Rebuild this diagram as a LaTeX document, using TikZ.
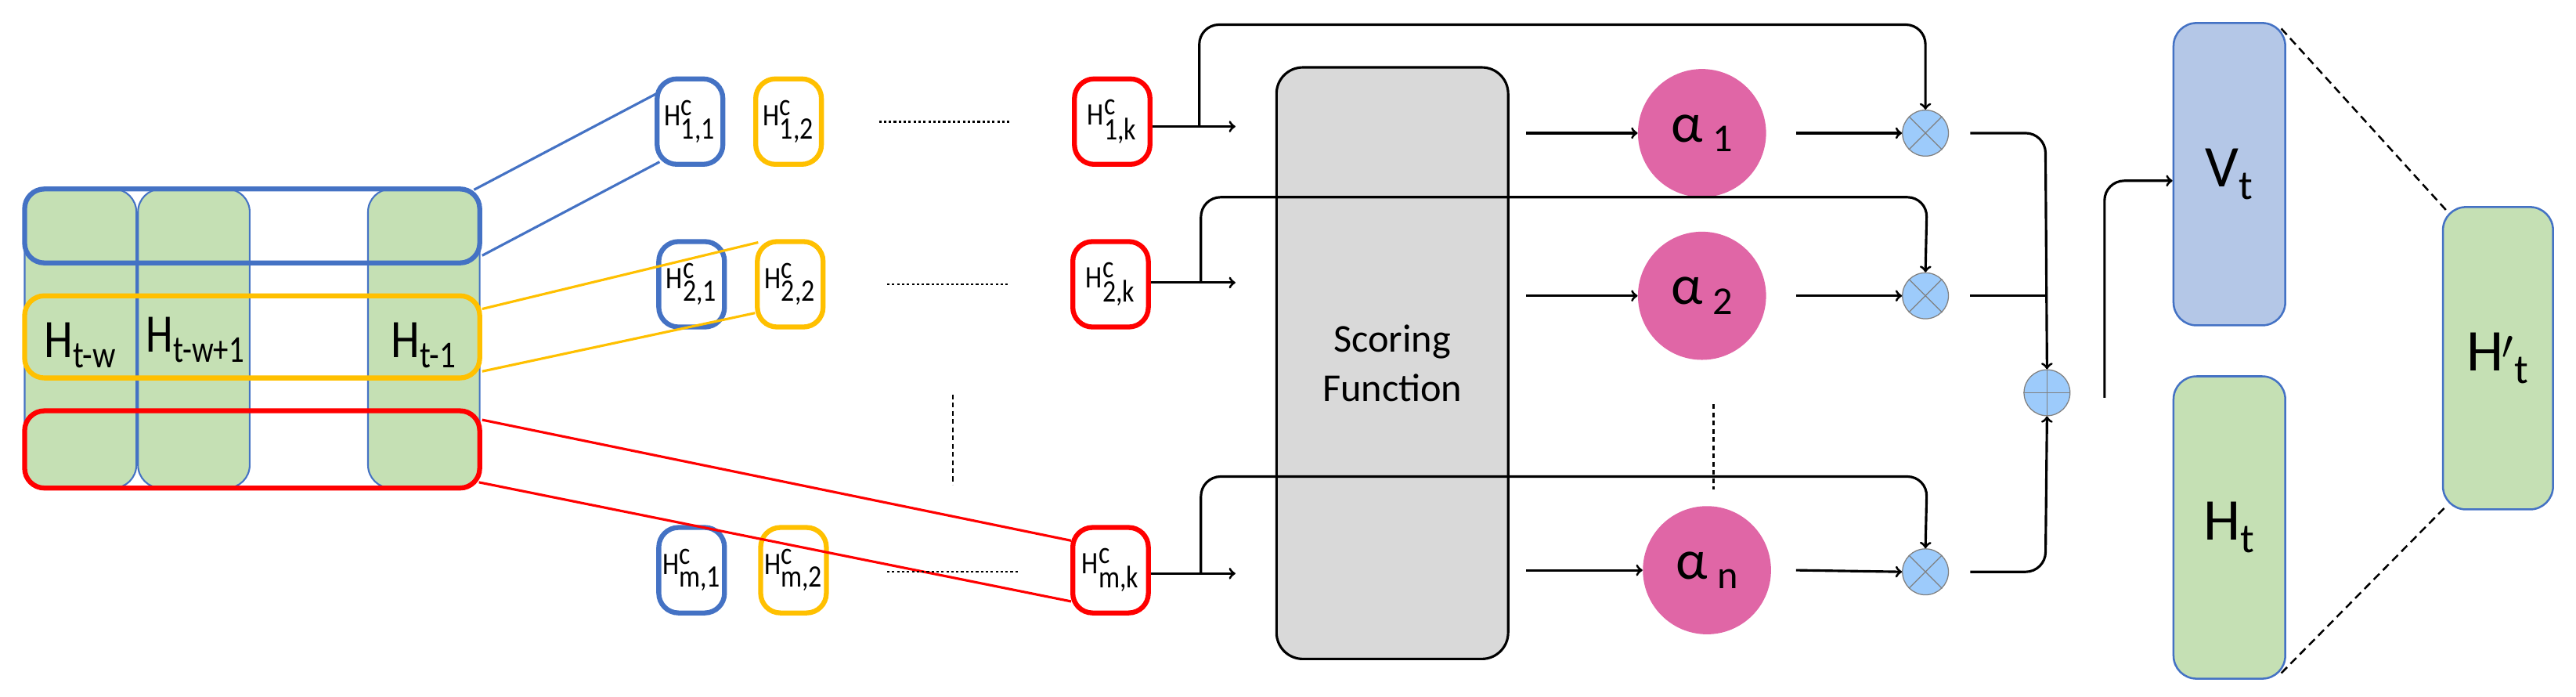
\documentclass[tikz,border=0pt]{standalone}
\usepackage{fontspec}
\setmainfont{Carlito}
\usetikzlibrary{shapes.geometric,calc}
\definecolor{cblue}{HTML}{4472C4}
\definecolor{cyel}{HTML}{FFC000}
\definecolor{cred}{HTML}{FF0000}
\definecolor{cgreen}{HTML}{C5E0B4}
\definecolor{cvb}{HTML}{B4C7E7}
\definecolor{cpink}{HTML}{E066A6}
\definecolor{cgray}{HTML}{D9D9D9}
\definecolor{ccirc}{HTML}{9DCBFB}
\begin{document}
\begin{tikzpicture}[x=1pt,y=-1pt,
  col/.style={draw=cblue,line width=1pt,fill=cgreen,rounded corners=14pt,minimum width=68pt,minimum height=182pt,inner sep=0pt},
  band/.style={draw=#1,line width=3pt,rounded corners=12pt,minimum width=277pt,inner sep=0pt},
  sb/.style={draw=#1,line width=3pt,rounded corners=12pt,minimum width=40pt,minimum height=52pt,inner sep=0pt,fill=white,font=\fontsize{19}{21}\selectfont},
  conn/.style={line width=1.5pt,->,rounded corners=12pt},
  alph/.style={ellipse,fill=cpink,minimum width=78pt,minimum height=78pt,inner sep=0pt,font=\fontsize{34}{36}\selectfont},
  mul/.style={circle,draw=gray,fill=ccirc,minimum size=28pt,inner sep=0pt,line width=0.6pt},
  big/.style={draw=cblue,line width=1.2pt,rounded corners=14pt,minimum width=68pt,minimum height=184pt,inner sep=0pt,font=\fontsize{36}{38}\selectfont},
  lbl/.style={font=\fontsize{33}{35}\selectfont,inner sep=0pt},
  dots/.style={line width=1.2pt,dash pattern=on 1.5pt off 1.5pt},
  dsh/.style={line width=1.2pt,dash pattern=on 5pt off 3pt}]
\useasboundingbox (0,0) rectangle (1568,424);
% columns
\node[col] (c1) at (49,206) {};
\node[col] (c2) at (118,206) {};
\node[col] (c3) at (258,206) {};
\node[band=cblue,minimum height=45pt] (bb) at (153.5,137.5) {};
\node[band=cyel,minimum height=50pt] (yb) at (153.5,205) {};
\node[band=cred,minimum height=47pt] (rb) at (153.5,273.5) {};
\node[lbl] (l1) at (49,210) {\scalebox{0.85}[1]{H\textsubscript{t-w}}};
\node[lbl] (l2) at (119,207) {\scalebox{0.8}[1]{H\textsubscript{t-w+1}}};
\node[lbl] (l3) at (258,210) {\scalebox{0.85}[1]{H\textsubscript{t-1}}};
% small boxes
\newcommand{\hc}[1]{\scalebox{0.85}[1]{H$^{\textrm{c}}_{\textrm{#1}}$}}
\node[sb=cblue] (b11) at (420,74) {\hc{1,1}};
\node[sb=cyel] (b12) at (480,74) {\hc{1,2}};
\node[sb=cred,minimum width=46pt] (b1k) at (677,74) {\hc{1,k}};
\node[sb=cblue] (b21) at (421,173) {\hc{2,1}};
\node[sb=cyel] (b22) at (481,173) {\hc{2,2}};
\node[sb=cred,minimum width=46pt] (b2k) at (676,173) {\hc{2,k}};
\node[sb=cblue] (bm1) at (421,347) {\hc{m,1}};
\node[sb=cyel] (bm2) at (483,347) {\hc{m,2}};
% connecting lines
\draw[cblue,line width=1.5pt] (bb.north east) ++(-5,2) -- ($(b11.south west)+(2,-45)$);
\draw[cblue,line width=1.5pt] (bb.east) ++(0,18) -- ($(b11.south west)+(3,-3)$);
\draw[cyel,line width=1.5pt] (yb.east) ++(0,-17) -- ($(b22.north west)+(2,2)$);
\draw[cyel,line width=1.5pt] (yb.east) ++(0,21) -- ($(b22.south west)+(0,-10)$);
\draw[cred,line width=1.5pt] (rb.east) ++(0,-18) -- (652,329);
\draw[cred,line width=1.5pt] (rb.east) ++(-2,20) -- (652,366);
\node[sb=cred,minimum width=46pt] (bmk) at (676,347) {\hc{m,k}};
% dotted
\draw[dots] (535,74) -- (615,74);
\draw[dots] (540,173) -- (615,173);
\draw[dots] (540,348) -- (620,348);
\draw[dsh,dash pattern=on 3pt off 2pt] (580,240) -- (580,295);
% scoring
\node[draw,line width=1.5pt,fill=cgray,rounded corners=16pt,minimum width=141pt,minimum height=360pt,align=center,font=\fontsize{24}{30}\selectfont] (sf) at (847.5,221) {Scoring\\Function};
% alphas
\node[alph] (a1) at (1036,81) {α\,\raisebox{-6pt}{\fontsize{24}{24}\selectfont 1}};
\node[alph] (a2) at (1036,180) {α\,\raisebox{-6pt}{\fontsize{24}{24}\selectfont 2}};
\node[alph] (an) at (1039,347) {α\,\raisebox{-6pt}{\fontsize{24}{24}\selectfont n}};
\draw[dsh,dash pattern=on 3pt off 2pt] (1043,246) -- (1043,298);
% multiply
\foreach \n/\y in {1/81,2/180,3/348}{
  \node[mul] (m\n) at (1172,\y) {};
  \draw[gray,line width=0.6pt] (m\n.north west) -- (m\n.south east) (m\n.north east) -- (m\n.south west);
}
\node[mul] (pl) at (1246,239) {};
\draw[gray,line width=0.6pt] (pl.west) -- (pl.east) (pl.north) -- (pl.south);
% arrows in
\coordinate (e1) at (752,77);
\coordinate (e2) at (752,172);
\coordinate (e3) at (752,349);
\draw[conn] (b1k.east |- e1) -- (e1);
\draw[conn] (b2k.east |- e2) -- (e2);
\draw[conn] (bmk.east |- e3) -- (e3);
\draw[conn] (730,77) -- (730,15) -- (1172,15) -- (m1.north);
\draw[conn] (731,172) -- (731,120) -- (1173,120) -- (m2.north);
\draw[conn] (731,349) -- (731,290) -- (1173,290) -- (m3.north);
\draw[conn] (929,81) -- (a1.west);
\draw[conn] (929,180) -- (a2.west);
\draw[conn] (929,347) -- (an.west);
\draw[conn] (a1.east) ++(18,0) -- (m1.west);
\draw[conn] (a2.east) ++(18,0) -- (m2.west);
\draw[conn] (an.east) ++(15,0) -- (m3.west);
\draw[conn] (m1.east) ++(13,0) -- (1245,81) -- (pl.north);
\draw[line width=1.5pt] (m2.east) ++(13,0) -- (1245,180);
\draw[conn] (m3.east) ++(13,0) -- (1245,348) -- (pl.south);
% right side
\node[big,fill=cvb] (vt) at (1357,106) {V\textsubscript{t}};
\node[big,fill=cgreen] (ht) at (1357,321) {H\textsubscript{t}};
\node[big,fill=cgreen,minimum width=67pt] (hp) at (1520.5,218) {H\textsuperscript{\kern-1pt\raisebox{-2pt}{$\prime$}}\textsubscript{t}};
\draw[conn] (1281,242) -- (1281,110) -- (vt.west |- 0,110);
\draw[dsh] (vt.north east) ++(-3,4) -- ($(hp.north west)+(3,3)$);
\draw[dsh] (ht.south east) ++(-3,-4) -- ($(hp.south west)+(3,-3)$);
\end{tikzpicture}
\end{document}
